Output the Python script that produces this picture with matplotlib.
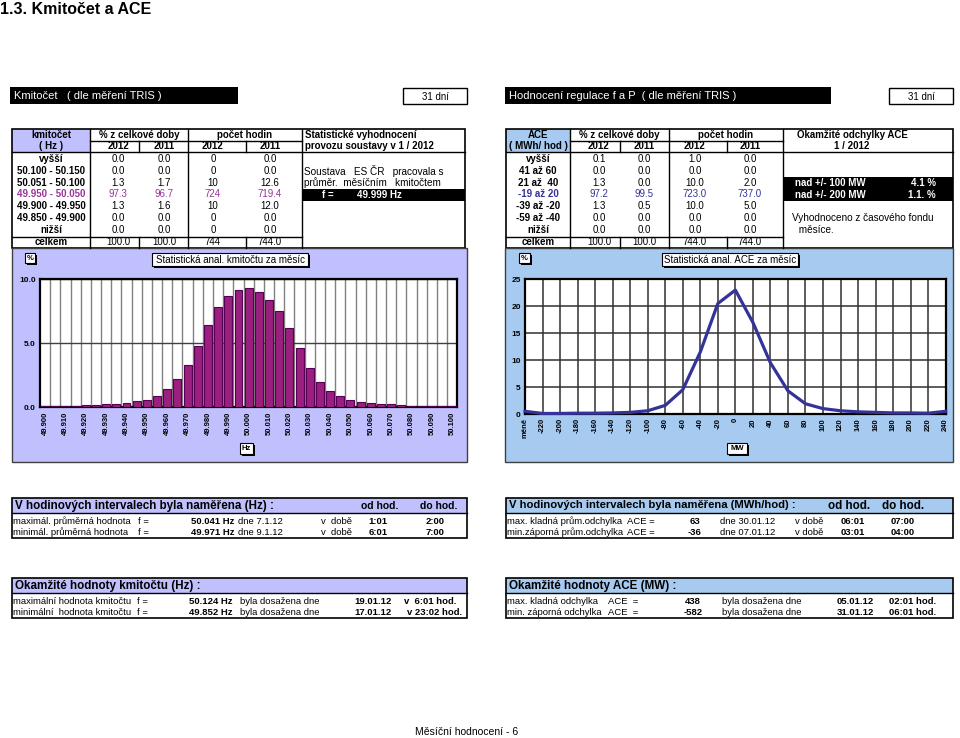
import matplotlib
matplotlib.use("Agg")
import matplotlib.pyplot as plt
from matplotlib.patches import Rectangle
import numpy as np

plt.rcParams['font.family'] = ['Liberation Sans', 'DejaVu Sans']

W, H = 960, 738
LAV = '#C0C0FF'
SKY = '#A6CAF0'

# --- data: frequency table ---
freq_rows = ['vyšší', '50.100 - 50.150', '50.051 - 50.100', '49.950 - 50.050',
             '49.900 - 49.950', '49.850 - 49.900', 'nižší', 'celkem']
freq_pct_2012 = ['0.0', '0.0', '1.3', '97.3', '1.3', '0.0', '0.0', '100.0']
freq_pct_2011 = ['0.0', '0.0', '1.7', '96.7', '1.6', '0.0', '0.0', '100.0']
freq_hrs_2012 = ['0', '0', '10', '724', '10', '0', '0', '744']
freq_hrs_2011 = ['0.0', '0.0', '12.6', '719.4', '12.0', '0.0', '0.0', '744.0']

# --- data: ACE table ---
ace_rows = ['vyšší', '41 až 60', '21 až  40', '-19 až 20', '-39 až -20',
            '-59 až -40', 'nižší', 'celkem']
ace_pct_2012 = ['0.1', '0.0', '1.3', '97.2', '1.3', '0.0', '0.0', '100.0']
ace_pct_2011 = ['0.0', '0.0', '0.0', '99.5', '0.5', '0.0', '0.0', '100.0']
ace_hrs_2012 = ['1.0', '0.0', '10.0', '723.0', '10.0', '0.0', '0.0', '744.0']
ace_hrs_2011 = ['0.0', '0.0', '2.0', '737.0', '5.0', '0.0', '0.0', '744.0']

# --- data: frequency histogram (% of time per 5 mHz bin) ---
freq_bins = [f"{49.900 + 0.005 * i:.3f}" for i in range(41)]
freq_hist = [0.08, 0.08, 0.10, 0.10, 0.15, 0.18, 0.22, 0.28, 0.36, 0.50,
             0.60, 0.90, 1.40, 2.20, 3.30, 4.80, 6.40, 7.80, 8.70, 9.20,
             9.30, 9.00, 8.40, 7.50, 6.20, 4.60, 3.10, 2.00, 1.30, 0.90,
             0.60, 0.45, 0.35, 0.28, 0.22, 0.16, 0.13, 0.10, 0.08, 0.07, 0.07]

# --- data: ACE distribution ---
ace_bins = ['méně', '-220', '-200', '-180', '-160', '-140', '-120', '-100', '-80',
            '-60', '-40', '-20', '0', '20', '40', '60', '80', '100', '120',
            '140', '160', '180', '200', '220', '240']
ace_dist = [0.5, 0.1, 0.1, 0.15, 0.15, 0.2, 0.3, 0.6, 1.6, 4.5, 11.5, 20.5,
            23.0, 17.0, 9.5, 4.3, 1.9, 1.0, 0.6, 0.4, 0.3, 0.2, 0.2, 0.15, 0.5]

fig = plt.figure(figsize=(W / 100, H / 100), dpi=100)
bg = fig.add_axes([0, 0, 1, 1])
bg.set_xlim(0, W)
bg.set_ylim(H, 0)
bg.axis('off')


def rect(x0, y0, x1, y1, fc='none', ec='none', lw=1.0):
  bg.add_patch(Rectangle((x0, y0), x1 - x0, y1 - y0, fc=fc, ec=ec, lw=lw))


def hline(y, x0, x1, lw=1.0):
  bg.plot([x0, x1], [y, y], color='black', lw=lw)


def vline(x, y0, y1, lw=1.0):
  bg.plot([x, x], [y0, y1], color='black', lw=lw)


def txt(x, y, s, ha='left', fs=7, bold=False, color='black'):
  bg.text(x, y, s, ha=ha, va='center', fontsize=fs,
          fontweight='bold' if bold else 'normal', color=color)


def shadow_box(x0, y0, x1, y1, s, fs=7, bold=False):
  rect(x0 + 1.5, y0 + 1.5, x1 + 1.5, y1 + 1.5, fc='black')
  rect(x0, y0, x1, y1, fc='white', ec='black', lw=0.8)
  txt((x0 + x1) / 2, (y0 + y1) / 2 + 0.5, s, ha='center', fs=fs, bold=bold)


def px_axes(x0, y0, x1, y1):
  return fig.add_axes([x0 / W, 1 - y1 / H, (x1 - x0) / W, (y1 - y0) / H])


# page title and black header bars
txt(0, 9.5, '1.3. Kmitočet a ACE', fs=11.5, bold=True)
rect(10, 87, 238, 104, fc='black')
txt(14, 96, 'Kmitočet   ( dle měření TRIS )', fs=8, color='white')
rect(403, 88, 467, 104, fc='white', ec='black', lw=1)
txt(435, 96.5, '31 dní', ha='center', fs=7)
rect(505, 87, 831, 104, fc='black')
txt(509, 96, 'Hodnocení regulace f a P  ( dle měření TRIS )', fs=8, color='white')
rect(889, 88, 953, 104, fc='white', ec='black', lw=1)
txt(921, 96.5, '31 dní', ha='center', fs=7)

row_y = [159 + 11.8 * i for i in range(8)]


def draw_table(x, centers, head, rows, vals, hi_color, shade):
  left, c1, c2, c3, c4, c5, right = x
  rect(left, 129, c1, 152, fc=shade)
  rect(left, 129, right, 248, ec='black', lw=1.2)
  hline(140.5, c1, c5)
  hline(152, left, right)
  hline(237, left, c5)
  for cx in (c1, c3, c5):
    vline(cx, 129, 248)
  for cx in (c2, c4):
    vline(cx, 140.5, 152)
    vline(cx, 237, 248)
  txt((left + c1) / 2, 135.5, head[0], ha='center', bold=True)
  txt((left + c1) / 2, 146, head[1], ha='center', bold=True)
  txt((c1 + c3) / 2, 135.5, '% z celkové doby', ha='center', bold=True)
  txt((c3 + c5) / 2, 135.5, 'počet hodin', ha='center', bold=True)
  for cx, yr in zip(centers, ['2012', '2011', '2012', '2011']):
    txt(cx, 146, yr, ha='center', bold=True)
  for i, lab in enumerate(rows):
    col = hi_color if i == 3 else 'black'
    txt((left + c1) / 2, row_y[i], lab, ha='center', bold=True, color=col)
    for cx, v in zip(centers, vals):
      txt(cx, row_y[i], v[i], ha='center', color=col)


draw_table((12, 90, 139, 188, 246, 302, 465), [118, 164, 213, 270],
           ['kmitočet', '( Hz )'], freq_rows,
           [freq_pct_2012, freq_pct_2011, freq_hrs_2012, freq_hrs_2011],
           '#993399', LAV)
txt(305, 135.5, 'Statistické vyhodnocení', bold=True)
txt(305, 146, 'provozu soustavy v 1 / 2012', bold=True)
txt(304, 171, 'Soustava   ES ČR   pracovala s', fs=7.2)
txt(304, 183, 'průměr.  měsíčním   kmitočtem', fs=7.2)
rect(302, 189, 465, 200.5, fc='black')
txt(322, 195, 'f =', bold=True, color='white')
txt(357, 195, '49.999 Hz', bold=True, color='white')

draw_table((506, 570, 620, 669, 727, 783, 953), [599, 644, 695, 750],
           ['ACE', '( MWh/ hod )'], ace_rows,
           [ace_pct_2012, ace_pct_2011, ace_hrs_2012, ace_hrs_2011],
           '#333399', SKY)
txt(852, 135.5, 'Okamžité odchylky ACE', ha='center', bold=True)
txt(852, 146, '1 / 2012', ha='center', bold=True)
rect(783, 176.5, 953, 200.5, fc='black')
txt(795, 182.7, 'nad +/- 100 MW', bold=True, color='white')
txt(936, 182.7, '4.1 %', ha='right', bold=True, color='white')
txt(795, 194.7, 'nad +/- 200 MW', bold=True, color='white')
txt(936, 194.7, '1.1. %', ha='right', bold=True, color='white')
txt(792, 218, 'Vyhodnoceno z časového fondu', fs=7.2)
txt(796, 230, ' měsíce.', fs=7.2)

# chart panels
rect(12, 248, 467, 462, fc=LAV, ec='#404040', lw=1)
rect(505, 248, 953, 462, fc=SKY, ec='#404040', lw=1)
shadow_box(25, 253, 35, 263, '%', fs=5.5, bold=True)
shadow_box(152, 253, 308, 266, 'Statistická anal. kmitočtu za měsíc', fs=7)
shadow_box(240, 443, 253, 454, 'Hz', fs=5.5, bold=True)
shadow_box(519, 253, 530, 263, '%', fs=5.5, bold=True)
shadow_box(662, 253, 798, 266, 'Statistická anal. ACE za měsíc', fs=7)
shadow_box(727, 443, 747, 454, 'MW', fs=5.5, bold=True)

# frequency histogram
ax1 = px_axes(40, 279.3, 457.3, 407.3)
xs = np.arange(len(freq_bins))
ax1.bar(xs, freq_hist, width=0.78, color='#9A1F7E', edgecolor='#550055', lw=0.8,
        zorder=3)
ax1.set_xlim(-0.5, len(freq_bins) - 0.5)
ax1.set_ylim(0, 10)
ax1.set_xticks(xs[::2])
ax1.set_xticklabels(freq_bins[::2], rotation=90, fontsize=5.5, fontweight='bold')
ax1.set_xticks(xs[:-1] + 0.5, minor=True)
ax1.set_yticks([0, 5, 10])
ax1.set_yticklabels(['0.0', '5.0', '10.0'], fontsize=6, fontweight='bold')
ax1.grid(True, which='minor', axis='x', color='#808080', lw=1, zorder=0)
ax1.grid(True, which='major', axis='y', color='#404040', lw=1, zorder=0)
ax1.tick_params(axis='both', which='both', length=0, pad=3)
for sp in ax1.spines.values():
  sp.set_linewidth(1.6)

# ACE line chart
ax2 = px_axes(525, 279.3, 945.7, 414)
xa = np.arange(len(ace_bins))
ax2.plot(xa, ace_dist, color='#333399', lw=2.3, zorder=3, clip_on=False)
ax2.set_xlim(0, len(ace_bins) - 1)
ax2.set_ylim(0, 25)
ax2.set_xticks(xa)
ax2.set_xticklabels(ace_bins, rotation=90, fontsize=5.5, fontweight='bold')
ax2.set_yticks(range(0, 26, 5))
ax2.set_yticklabels([str(v) for v in range(0, 26, 5)], fontsize=6, fontweight='bold')
ax2.grid(True, color='#303030', lw=1.1, zorder=0)
ax2.tick_params(axis='both', length=0, pad=3)
for sp in ax2.spines.values():
  sp.set_linewidth(1.6)


def info_box(x0, x1, y0, shade, title, cols, rows, title_fs=8.4, col_fs=7.5):
  rect(x0, y0, x1, y0 + 15, fc=shade)
  rect(x0, y0, x1, y0 + 40, ec='black', lw=1.2)
  hline(y0 + 15, x0, x1)
  txt(x0 + 3, y0 + 7.5, title, fs=title_fs, bold=True)
  for cx, s in cols:
    txt(cx, y0 + 8, s, ha='center', fs=col_fs, bold=True)
  for j, row in enumerate(rows):
    for cx, s, ha, b in row:
      txt(cx, y0 + 23 + 11.5 * j, s, ha=ha, fs=6.8, bold=b)


info_box(12, 467, 498, LAV, 'V hodinových intervalech byla naměřena (Hz) :',
         [(380, 'od hod.'), (439, 'do hod.')],
         [[(13, 'maximál. průměrná hodnota', 'left', False), (138, 'f =', 'left', False),
           (191, '50.041 Hz', 'left', True), (238, 'dne 7.1.12', 'left', False),
           (321, 'v  době', 'left', False), (378, '1:01', 'center', True),
           (435, '2:00', 'center', True)],
          [(13, 'minimál. průměrná hodnota', 'left', False), (138, 'f =', 'left', False),
           (191, '49.971 Hz', 'left', True), (238, 'dne 9.1.12', 'left', False),
           (321, 'v  době', 'left', False), (378, '6:01', 'center', True),
           (435, '7:00', 'center', True)]])

info_box(506, 953, 498, SKY, 'V hodinových intervalech byla naměřena (MWh/hod) :',
         [(849, 'od hod.'), (903, 'do hod.')],
         [[(507, 'max. kladná prům.odchylka', 'left', False), (627, 'ACE =', 'left', False),
           (695, '63', 'center', True), (720, 'dne 30.01.12', 'left', False),
           (795, 'v době', 'left', False), (853, '06:01', 'center', True),
           (903, '07:00', 'center', True)],
          [(507, 'min.záporná prům.odchylka', 'left', False), (627, 'ACE =', 'left', False),
           (695, '-36', 'center', True), (720, 'dne 07.01.12', 'left', False),
           (795, 'v době', 'left', False), (853, '03:01', 'center', True),
           (903, '04:00', 'center', True)]],
         title_fs=8.1, col_fs=8.4)

info_box(12, 467, 578, LAV, 'Okamžité hodnoty kmitočtu (Hz) :', [],
         [[(13, 'maximální hodnota kmitočtu', 'left', False), (137, 'f =', 'left', False),
           (189, '50.124 Hz', 'left', True), (240, 'byla dosažena dne', 'left', False),
           (354, '19.01.12', 'left', True), (404, 'v  6:01 hod.', 'left', True)],
          [(13, 'minimální  hodnota kmitočtu', 'left', False), (137, 'f =', 'left', False),
           (189, '49.852 Hz', 'left', True), (240, 'byla dosažena dne', 'left', False),
           (354, '17.01.12', 'left', True), (407, 'v 23:02 hod.', 'left', True)]])

info_box(506, 953, 578, SKY, 'Okamžité hodnoty ACE (MW) :', [],
         [[(507, 'max. kladná odchylka', 'left', False), (608, 'ACE  =', 'left', False),
           (693, '438', 'center', True), (722, 'byla dosažena dne', 'left', False),
           (837, '05.01.12', 'left', True), (889, '02:01 hod.', 'left', True)],
          [(507, 'min. záporná odchylka', 'left', False), (608, 'ACE  =', 'left', False),
           (693, '-582', 'center', True), (722, 'byla dosažena dne', 'left', False),
           (837, '31.01.12', 'left', True), (889, '06:01 hod.', 'left', True)]])

txt(467, 732, 'Měsíční hodnocení - 6', ha='center', fs=7.5)

fig.savefig('out.png', dpi=100)
